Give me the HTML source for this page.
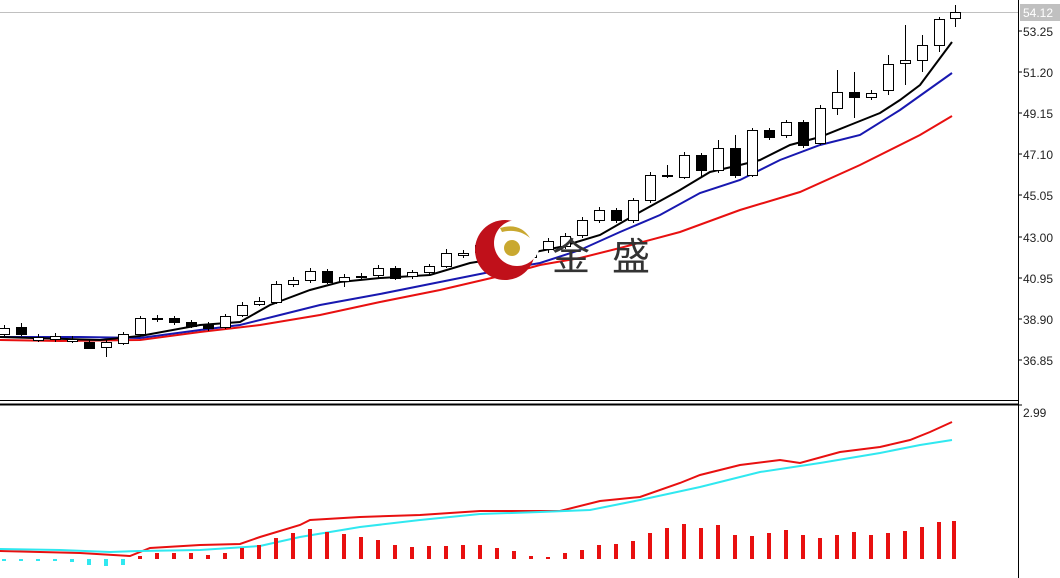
<!DOCTYPE html><html><head><meta charset="utf-8"><style>body{margin:0;background:#fff}svg{display:block}text{font-family:"Liberation Sans",sans-serif;font-size:12px;fill:#222}</style></head><body>
<svg width="1060" height="578" viewBox="0 0 1060 578" xmlns="http://www.w3.org/2000/svg">
<rect width="1060" height="578" fill="#fff"/>
<line x1="0" y1="12.5" x2="1018" y2="12.5" stroke="#c0c0c0"/>
<g stroke="#000" stroke-width="1" shape-rendering="crispEdges">
<line x1="1018.5" y1="0" x2="1018.5" y2="578"/>
<line x1="0" y1="400.5" x2="1018" y2="400.5"/>
<line x1="0" y1="404.5" x2="1018" y2="404.5" stroke-width="2"/>
<line x1="1018" y1="31" x2="1022" y2="31"/><line x1="1018" y1="72" x2="1022" y2="72"/><line x1="1018" y1="113" x2="1022" y2="113"/><line x1="1018" y1="154" x2="1022" y2="154"/><line x1="1018" y1="195" x2="1022" y2="195"/><line x1="1018" y1="237" x2="1022" y2="237"/><line x1="1018" y1="278" x2="1022" y2="278"/><line x1="1018" y1="319" x2="1022" y2="319"/><line x1="1018" y1="360" x2="1022" y2="360"/><line x1="1018" y1="405" x2="1022" y2="405"/>
</g>
<rect x="1020" y="4" width="40" height="17" fill="#c0c0c0"/>
<text x="1023" y="17" style="fill:#fff">54.12</text>
<text x="1023" y="36">53.25</text><text x="1023" y="77">51.20</text><text x="1023" y="118">49.15</text><text x="1023" y="159">47.10</text><text x="1023" y="200">45.05</text><text x="1023" y="242">43.00</text><text x="1023" y="283">40.95</text><text x="1023" y="324">38.90</text><text x="1023" y="365">36.85</text><text x="1023" y="417">2.99</text>
<!-- MAs -->
<g fill="none" stroke-width="2">
<polyline stroke="#e81010" points="0,340 60,341 140,340 200,332 260,325 320,315 380,302 440,290 500,276 540,265 580,258 620,248 680,232 740,210 800,192 860,165 920,135 952,116"/>
<polyline stroke="#1818b0" points="0,337 80,337 140,338 200,330 240,325 280,315 320,305 380,294 440,282 500,270 540,263 580,250 620,232 660,215 700,193 740,180 780,160 820,145 860,135 900,110 952,73"/>
<polyline stroke="#000" points="0,337 100,340 140,336 200,325 240,322 270,305 310,290 340,282 380,278 430,275 470,263 520,255 560,247 600,235 640,212 680,190 710,172 740,165 760,160 790,145 820,137 850,125 880,113 900,100 920,85 952,42"/>
</g>
<!-- candles -->
<g stroke="#000" stroke-width="1" fill="#fff" shape-rendering="crispEdges">
<line x1="4.5" y1="325" x2="4.5" y2="336"/><rect x="-0.5" y="328.5" width="10" height="6"/>
<line x1="21.5" y1="323" x2="21.5" y2="336"/><rect x="16.5" y="327.5" width="10" height="7" fill="#000"/>
<line x1="38.5" y1="334" x2="38.5" y2="342"/><rect x="33.5" y="337.5" width="10" height="3"/>
<line x1="55.5" y1="333" x2="55.5" y2="342"/><rect x="50.5" y="336.5" width="10" height="3"/>
<line x1="72.5" y1="336" x2="72.5" y2="343"/><rect x="67.5" y="339.5" width="10" height="2"/>
<line x1="89.5" y1="340" x2="89.5" y2="349"/><rect x="84.5" y="342.5" width="10" height="6" fill="#000"/>
<line x1="106.5" y1="340" x2="106.5" y2="357"/><rect x="101.5" y="342.5" width="10" height="5"/>
<line x1="123.5" y1="332" x2="123.5" y2="345"/><rect x="118.5" y="334.5" width="10" height="9"/>
<line x1="140.5" y1="316" x2="140.5" y2="336"/><rect x="135.5" y="318.5" width="10" height="16"/>
<line x1="157.5" y1="315" x2="157.5" y2="322"/><rect x="152.5" y="318.5" width="10" height="1"/>
<line x1="174.5" y1="316" x2="174.5" y2="325"/><rect x="169.5" y="318.5" width="10" height="4" fill="#000"/>
<line x1="191.5" y1="320" x2="191.5" y2="328"/><rect x="186.5" y="322.5" width="10" height="4" fill="#000"/>
<line x1="208.5" y1="322" x2="208.5" y2="331"/><rect x="203.5" y="325.5" width="10" height="3" fill="#000"/>
<line x1="225.5" y1="314" x2="225.5" y2="329"/><rect x="220.5" y="316.5" width="10" height="11"/>
<line x1="242.5" y1="302" x2="242.5" y2="317"/><rect x="237.5" y="305.5" width="10" height="10"/>
<line x1="259.5" y1="297" x2="259.5" y2="306"/><rect x="254.5" y="301.5" width="10" height="3"/>
<line x1="276.5" y1="281" x2="276.5" y2="304"/><rect x="271.5" y="284.5" width="10" height="18"/>
<line x1="293.5" y1="277" x2="293.5" y2="287"/><rect x="288.5" y="280.5" width="10" height="4"/>
<line x1="310.5" y1="268" x2="310.5" y2="283"/><rect x="305.5" y="271.5" width="10" height="9"/>
<line x1="327.5" y1="269" x2="327.5" y2="284"/><rect x="322.5" y="271.5" width="10" height="11" fill="#000"/>
<line x1="344.5" y1="274" x2="344.5" y2="287"/><rect x="339.5" y="277.5" width="10" height="4"/>
<line x1="361.5" y1="273" x2="361.5" y2="280"/><rect x="356.5" y="276.5" width="10" height="1"/>
<line x1="378.5" y1="265" x2="378.5" y2="279"/><rect x="373.5" y="268.5" width="10" height="7"/>
<line x1="395.5" y1="266" x2="395.5" y2="280"/><rect x="390.5" y="268.5" width="10" height="10" fill="#000"/>
<line x1="412.5" y1="270" x2="412.5" y2="279"/><rect x="407.5" y="272.5" width="10" height="4"/>
<line x1="429.5" y1="264" x2="429.5" y2="275"/><rect x="424.5" y="266.5" width="10" height="6"/>
<line x1="446.5" y1="249" x2="446.5" y2="268"/><rect x="441.5" y="253.5" width="10" height="13"/>
<line x1="463.5" y1="250" x2="463.5" y2="258"/><rect x="458.5" y="253.5" width="10" height="2"/>
<line x1="480.5" y1="242" x2="480.5" y2="256"/><rect x="475.5" y="245.5" width="10" height="7"/>
<line x1="497.5" y1="237" x2="497.5" y2="253"/><rect x="492.5" y="240.5" width="10" height="10"/>
<line x1="514.5" y1="238" x2="514.5" y2="258"/><rect x="509.5" y="240.5" width="10" height="15"/>
<line x1="531.5" y1="238" x2="531.5" y2="260"/><rect x="526.5" y="240.5" width="10" height="17"/>
<line x1="548.5" y1="238" x2="548.5" y2="253"/><rect x="543.5" y="241.5" width="10" height="8"/>
<line x1="565.5" y1="233" x2="565.5" y2="249"/><rect x="560.5" y="236.5" width="10" height="10"/>
<line x1="582.5" y1="217" x2="582.5" y2="238"/><rect x="577.5" y="220.5" width="10" height="15"/>
<line x1="599.5" y1="207" x2="599.5" y2="223"/><rect x="594.5" y="210.5" width="10" height="10"/>
<line x1="616.5" y1="208" x2="616.5" y2="223"/><rect x="611.5" y="210.5" width="10" height="10" fill="#000"/>
<line x1="633.5" y1="198" x2="633.5" y2="223"/><rect x="628.5" y="200.5" width="10" height="20"/>
<line x1="650.5" y1="172" x2="650.5" y2="203"/><rect x="645.5" y="175.5" width="10" height="25"/>
<line x1="667.5" y1="165" x2="667.5" y2="178"/><rect x="662.5" y="175.5" width="10" height="1"/>
<line x1="684.5" y1="152" x2="684.5" y2="179"/><rect x="679.5" y="155.5" width="10" height="22"/>
<line x1="701.5" y1="153" x2="701.5" y2="178"/><rect x="696.5" y="155.5" width="10" height="15" fill="#000"/>
<line x1="718.5" y1="140" x2="718.5" y2="173"/><rect x="713.5" y="148.5" width="10" height="22"/>
<line x1="735.5" y1="135" x2="735.5" y2="178"/><rect x="730.5" y="148.5" width="10" height="27" fill="#000"/>
<line x1="752.5" y1="128" x2="752.5" y2="177"/><rect x="747.5" y="130.5" width="10" height="45"/>
<line x1="769.5" y1="128" x2="769.5" y2="140"/><rect x="764.5" y="130.5" width="10" height="7" fill="#000"/>
<line x1="786.5" y1="120" x2="786.5" y2="138"/><rect x="781.5" y="122.5" width="10" height="13"/>
<line x1="803.5" y1="120" x2="803.5" y2="148"/><rect x="798.5" y="122.5" width="10" height="23" fill="#000"/>
<line x1="820.5" y1="105" x2="820.5" y2="145"/><rect x="815.5" y="108.5" width="10" height="35"/>
<line x1="837.5" y1="70" x2="837.5" y2="115"/><rect x="832.5" y="92.5" width="10" height="16"/>
<line x1="854.5" y1="72" x2="854.5" y2="118"/><rect x="849.5" y="92.5" width="10" height="5" fill="#000"/>
<line x1="871.5" y1="90" x2="871.5" y2="100"/><rect x="866.5" y="93.5" width="10" height="4"/>
<line x1="888.5" y1="55" x2="888.5" y2="95"/><rect x="883.5" y="64.5" width="10" height="26"/>
<line x1="905.5" y1="25" x2="905.5" y2="85"/><rect x="900.5" y="60.5" width="10" height="3"/>
<line x1="922.5" y1="35" x2="922.5" y2="72"/><rect x="917.5" y="45.5" width="10" height="15"/>
<line x1="939.5" y1="17" x2="939.5" y2="52"/><rect x="934.5" y="19.5" width="10" height="26"/>
<line x1="955.5" y1="5" x2="955.5" y2="27"/><rect x="950.5" y="12.5" width="10" height="6"/>
</g>
<!-- logo -->
<g>
<circle cx="505" cy="250" r="30" fill="#c0101a"/>
<circle cx="517" cy="243" r="23" fill="#fff"/>
<path d="M500 228 Q520 222 530 238 Q518 228 502 232Z" fill="#c9a830"/>
<circle cx="512" cy="248" r="8" fill="#c9a830"/>
<text x="552" y="270" style="font-family:'Noto Sans CJK SC',sans-serif;font-size:38px;fill:#333">金</text>
<text x="612" y="270" style="font-family:'Noto Sans CJK SC',sans-serif;font-size:38px;fill:#333">盛</text>
</g>
<!-- bottom -->
<g fill="none" stroke-width="2">
<polyline stroke="#e81010" points="0,551 80,553 130,556 150,548 200,545 240,544 260,537 300,525 310,520 360,517 420,515 480,511 560,511 600,501 640,497 680,483 700,475 740,465 780,460 800,463 840,452 880,447 910,440 930,432 952,422"/>
<polyline stroke="#30e8f0" points="0,549 60,550 110,552 140,551 200,550 260,546 300,537 360,527 420,520 480,514 540,512 590,510 640,500 700,487 760,472 820,463 880,453 920,445 952,440"/>
</g>
<g shape-rendering="crispEdges" fill="#30e8f0">
<rect x="2" y="559" width="4" height="2"/><rect x="19" y="559" width="4" height="2"/><rect x="36" y="559" width="4" height="2"/><rect x="53" y="559" width="4" height="2"/><rect x="70" y="559" width="4" height="3"/><rect x="87" y="559" width="4" height="6"/><rect x="104" y="559" width="4" height="7"/><rect x="121" y="559" width="4" height="6"/>
</g>
<g shape-rendering="crispEdges" fill="#e81010">
<rect x="138" y="556" width="4" height="3"/><rect x="155" y="553" width="4" height="6"/><rect x="172" y="553" width="4" height="6"/><rect x="189" y="553" width="4" height="6"/><rect x="206" y="555" width="4" height="4"/><rect x="223" y="553" width="4" height="6"/><rect x="240" y="548" width="4" height="11"/><rect x="257" y="545" width="4" height="14"/><rect x="274" y="538" width="4" height="21"/><rect x="291" y="533" width="4" height="26"/><rect x="308" y="529" width="4" height="30"/><rect x="325" y="532" width="4" height="27"/><rect x="342" y="534" width="4" height="25"/><rect x="359" y="537" width="4" height="22"/><rect x="376" y="540" width="4" height="19"/><rect x="393" y="545" width="4" height="14"/><rect x="410" y="547" width="4" height="12"/><rect x="427" y="546" width="4" height="13"/><rect x="444" y="546" width="4" height="13"/><rect x="461" y="545" width="4" height="14"/><rect x="478" y="545" width="4" height="14"/><rect x="495" y="548" width="4" height="11"/><rect x="512" y="551" width="4" height="8"/><rect x="529" y="556" width="4" height="3"/><rect x="546" y="557" width="4" height="2"/><rect x="563" y="553" width="4" height="6"/><rect x="580" y="550" width="4" height="9"/><rect x="597" y="545" width="4" height="14"/><rect x="614" y="544" width="4" height="15"/><rect x="631" y="541" width="4" height="18"/><rect x="648" y="533" width="4" height="26"/><rect x="665" y="528" width="4" height="31"/><rect x="682" y="524" width="4" height="35"/><rect x="699" y="528" width="4" height="31"/><rect x="716" y="525" width="4" height="34"/><rect x="733" y="535" width="4" height="24"/><rect x="750" y="536" width="4" height="23"/><rect x="767" y="533" width="4" height="26"/><rect x="784" y="530" width="4" height="29"/><rect x="801" y="535" width="4" height="24"/><rect x="818" y="538" width="4" height="21"/><rect x="835" y="535" width="4" height="24"/><rect x="852" y="532" width="4" height="27"/><rect x="869" y="535" width="4" height="24"/><rect x="886" y="533" width="4" height="26"/><rect x="903" y="531" width="4" height="28"/><rect x="920" y="527" width="4" height="32"/><rect x="937" y="522" width="4" height="37"/><rect x="952" y="521" width="4" height="38"/>
</g>
</svg></body></html>
